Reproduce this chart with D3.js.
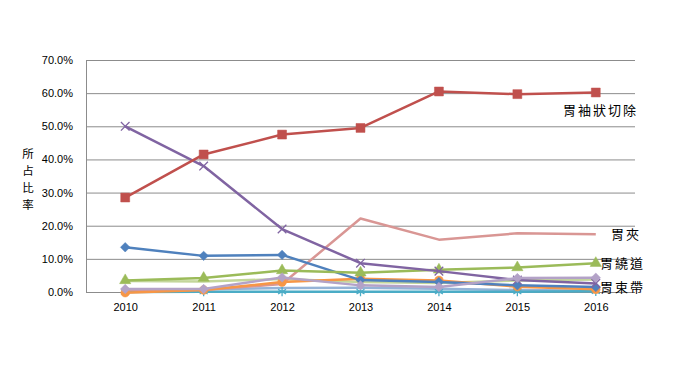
<!DOCTYPE html>
<html><head><meta charset="utf-8">
<script src="https://cdn.jsdelivr.net/npm/d3@7/dist/d3.min.js"></script>
<style>body{margin:0;background:#fff}svg{display:block}</style>
</head><body><svg id="c" width="675" height="380"></svg>
<script>
const years = ["2010","2011","2012","2013","2014","2015","2016"];
const yTicks = [0,10,20,30,40,50,60,70];
const sBlue   = [13.5,10.9,11.2,3.6,3.0,2.0,1.5];
const sRed    = [28.5,41.5,47.5,49.5,60.5,59.7,60.2];
const sGreen  = [3.5,4.2,6.5,5.8,6.7,7.4,8.7];
const sPurple = [50.0,38.0,19.0,8.7,6.3,3.6,2.6];
const sAqua   = [0.0,0.1,0.1,0.1,0.1,0.1,0.2];
const sOrange = [-0.2,0.6,3.0,4.0,3.5,1.6,0.8];
const sPink   = [0.5,0.6,2.4,22.2,15.8,17.7,17.4];
const sLGreen = [3.3,3.2,3.9,3.0,2.7,3.5,3.8];
const sLPurp  = [0.9,0.9,4.4,2.0,1.5,4.2,4.3];
const sLBlue  = [0.5,0.8,1.2,1.3,1.0,0.6,0.4];
const labels = ["胃袖狀切除","胃夾","胃繞道","胃束帶"];
const yTitle = "所占比率";

const series = [
  {v:sLBlue, c:"#95B3D7", m:null},
  {v:sLGreen,c:"#C3D69B", m:null},
  {v:sAqua,  c:"#4BACC6", m:"star"},
  {v:sPink,  c:"#D99694", m:null},
  {v:sOrange,c:"#F79646", m:"circle"},
  {v:sBlue,  c:"#4F81BD", m:"diamond"},
  {v:sGreen, c:"#9BBB59", m:"triangle"},
  {v:sPurple,c:"#8064A2", m:"x"},
  {v:sLPurp, c:"#B3A2C7", m:"diamond"},
  {v:sRed,   c:"#C0504D", m:"square"}
];

const svg = d3.select("#c");
const L=86, R=635, T=60, B=292;
const x = d3.scalePoint().domain(years).range([L,R]).padding(0.5);
const y = d3.scaleLinear().domain([0,70]).range([B,T]);
const font = "'Liberation Sans','DejaVu Sans',sans-serif";
const cjk = "'Noto Sans CJK TC','Noto Sans CJK SC',sans-serif";

// gridlines
svg.append("g").selectAll("line").data(yTicks).join("line")
  .attr("x1",L).attr("x2",R).attr("y1",d=>y(d)+0.5).attr("y2",d=>y(d)+0.5)
  .attr("stroke","#8c8c8c").attr("stroke-width",1);
svg.append("line").attr("x1",L+0.5).attr("x2",L+0.5).attr("y1",T).attr("y2",B)
  .attr("stroke","#8c8c8c");

// y axis
const ya = svg.append("g").attr("transform",`translate(${L},0)`)
  .call(d3.axisLeft(y).tickValues(yTicks).tickSize(0).tickPadding(13).tickFormat(d=>d.toFixed(1)+"%"));
ya.select(".domain").remove();
ya.selectAll("text").attr("font-family",font).attr("font-size",11).attr("fill","#000");

// x axis
const xa = svg.append("g").attr("transform",`translate(0,${B})`)
  .call(d3.axisBottom(x).tickSize(0).tickPadding(11));
xa.select(".domain").remove();
xa.selectAll("text").attr("font-family",font).attr("font-size",11).attr("fill","#000");

// y title vertical
svg.append("g").selectAll("text").data(Array.from(yTitle)).join("text")
  .attr("x",28).attr("y",(d,i)=>158+i*17).attr("text-anchor","middle")
  .attr("font-family",cjk).attr("font-size",11.5).attr("fill","#000").text(d=>d);

const line = d3.line().x((d,i)=>x(years[i])).y(d=>y(d));
const sym = {circle:d3.symbolCircle,diamond:d3.symbolSquare,triangle:d3.symbolTriangle,square:d3.symbolSquare,star:d3.symbolAsterisk,x:d3.symbolTimes};
const size = {circle:60,diamond:45,triangle:55,square:80,star:60,x:50};
series.forEach(s=>{
  svg.append("path").datum(s.v).attr("d",line).attr("fill","none")
    .attr("stroke",s.c).attr("stroke-width",2.5).attr("stroke-linejoin","round");
  if(s.m){
    const stroked = (s.m==="star"||s.m==="x");
    const rot = s.m==="diamond" ? " rotate(45)" : "";
    svg.append("g").selectAll("path").data(s.v).join("path")
      .attr("transform",(d,i)=>`translate(${x(years[i])},${y(d)})${rot}`)
      .attr("d",d3.symbol(sym[s.m],size[s.m])())
      .attr("fill",stroked?"none":s.c)
      .attr("stroke",s.c).attr("stroke-width",stroked?1.3:0.5);
  }
});

// series labels
const lab = [
  {t:labels[0],x:563,y:115},
  {t:labels[1],x:611,y:239},
  {t:labels[2],x:600,y:268},
  {t:labels[3],x:600,y:292}
];
svg.append("g").selectAll("text").data(lab).join("text")
  .attr("x",d=>d.x).attr("y",d=>d.y).attr("font-family",cjk).attr("font-size",13)
  .attr("letter-spacing",2).attr("fill","#000").text(d=>d.t);
</script></body></html>
